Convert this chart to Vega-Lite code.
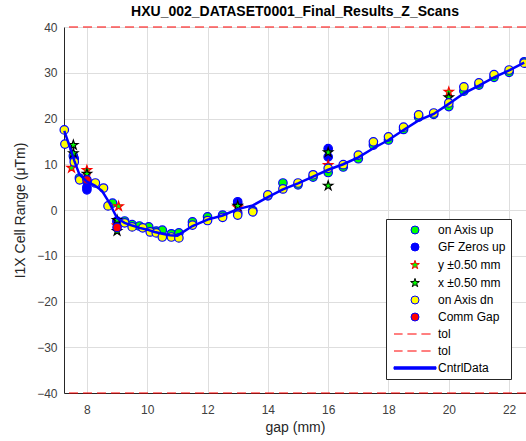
{
  "$schema": "https://vega.github.io/schema/vega-lite/v6.json",
  "autosize": "none",
  "width": 462,
  "height": 366,
  "padding": {"left": 64, "top": 27, "right": 0, "bottom": 48},
  "background": "white",
  "title": {"text": "HXU_002_DATASET0001_Final_Results_Z_Scans", "font": "Liberation Sans", "fontSize": 14, "fontWeight": "bold", "color": "#000000", "offset": 2, "anchor": "middle"},
  "datasets": {
    "pts": [
      {"series": "on Axis up", "gap": 7.55, "val": 11.8},
      {"series": "on Axis up", "gap": 7.75, "val": 7.0},
      {"series": "on Axis up", "gap": 8.0, "val": 6.2},
      {"series": "on Axis up", "gap": 8.85, "val": 1.5},
      {"series": "on Axis up", "gap": 9.0, "val": -2.6},
      {"series": "on Axis up", "gap": 9.25, "val": -2.4},
      {"series": "on Axis up", "gap": 9.5, "val": -3.2},
      {"series": "on Axis up", "gap": 9.74, "val": -3.5},
      {"series": "on Axis up", "gap": 10.05, "val": -3.7},
      {"series": "on Axis up", "gap": 10.3, "val": -4.6},
      {"series": "on Axis up", "gap": 10.5, "val": -4.4},
      {"series": "on Axis up", "gap": 10.8, "val": -5.2},
      {"series": "on Axis up", "gap": 11.05, "val": -5.0},
      {"series": "on Axis up", "gap": 11.5, "val": -2.6},
      {"series": "on Axis up", "gap": 12.0, "val": -1.5},
      {"series": "on Axis up", "gap": 12.5, "val": -1.1},
      {"series": "on Axis up", "gap": 13.0, "val": -0.6},
      {"series": "on Axis up", "gap": 13.5, "val": -0.1},
      {"series": "on Axis up", "gap": 14.0, "val": 3.1},
      {"series": "on Axis up", "gap": 14.5, "val": 5.9},
      {"series": "on Axis up", "gap": 15.0, "val": 5.5},
      {"series": "on Axis up", "gap": 15.5, "val": 7.2},
      {"series": "on Axis up", "gap": 16.0, "val": 8.2},
      {"series": "on Axis up", "gap": 16.5, "val": 9.4},
      {"series": "on Axis up", "gap": 17.0, "val": 11.2},
      {"series": "on Axis up", "gap": 17.5, "val": 14.2},
      {"series": "on Axis up", "gap": 18.0, "val": 15.3},
      {"series": "on Axis up", "gap": 18.5, "val": 17.6},
      {"series": "on Axis up", "gap": 19.0, "val": 20.3},
      {"series": "on Axis up", "gap": 19.5, "val": 20.9},
      {"series": "on Axis up", "gap": 20.0, "val": 22.6},
      {"series": "on Axis up", "gap": 20.5, "val": 26.0},
      {"series": "on Axis up", "gap": 21.0, "val": 27.3},
      {"series": "on Axis up", "gap": 21.5, "val": 29.0},
      {"series": "on Axis up", "gap": 22.0, "val": 30.1},
      {"series": "on Axis up", "gap": 22.5, "val": 32.4},
      {"series": "GF Zeros up", "gap": 7.58, "val": 11.2},
      {"series": "GF Zeros up", "gap": 8.0, "val": 5.0},
      {"series": "GF Zeros up", "gap": 8.0, "val": 4.4},
      {"series": "GF Zeros up", "gap": 9.0, "val": -2.4},
      {"series": "GF Zeros up", "gap": 13.0, "val": 1.8},
      {"series": "GF Zeros up", "gap": 13.0, "val": 1.3},
      {"series": "GF Zeros up", "gap": 16.0, "val": 13.4},
      {"series": "GF Zeros up", "gap": 16.0, "val": 11.6},
      {"series": "y ±0.50 mm", "gap": 7.49, "val": 9.2},
      {"series": "y ±0.50 mm", "gap": 8.0, "val": 8.7},
      {"series": "y ±0.50 mm", "gap": 9.05, "val": 0.8},
      {"series": "y ±0.50 mm", "gap": 9.0, "val": -3.4},
      {"series": "y ±0.50 mm", "gap": 13.0, "val": 0.6},
      {"series": "y ±0.50 mm", "gap": 16.0, "val": 9.8},
      {"series": "y ±0.50 mm", "gap": 20.0, "val": 25.8},
      {"series": "x ±0.50 mm", "gap": 7.55, "val": 14.2},
      {"series": "x ±0.50 mm", "gap": 7.55, "val": 12.4},
      {"series": "x ±0.50 mm", "gap": 8.0, "val": 7.9},
      {"series": "x ±0.50 mm", "gap": 9.0, "val": -2.2},
      {"series": "x ±0.50 mm", "gap": 9.0, "val": -4.6},
      {"series": "x ±0.50 mm", "gap": 13.0, "val": 0.9},
      {"series": "x ±0.50 mm", "gap": 16.0, "val": 12.6},
      {"series": "x ±0.50 mm", "gap": 16.0, "val": 5.3},
      {"series": "x ±0.50 mm", "gap": 20.0, "val": 24.6},
      {"series": "on Axis dn", "gap": 7.25, "val": 17.5},
      {"series": "on Axis dn", "gap": 7.27, "val": 14.4},
      {"series": "on Axis dn", "gap": 7.58, "val": 10.5},
      {"series": "on Axis dn", "gap": 7.76, "val": 6.6},
      {"series": "on Axis dn", "gap": 8.28, "val": 5.9},
      {"series": "on Axis dn", "gap": 8.55, "val": 4.8},
      {"series": "on Axis dn", "gap": 8.7, "val": 0.9},
      {"series": "on Axis dn", "gap": 9.25, "val": -2.8},
      {"series": "on Axis dn", "gap": 9.5, "val": -3.7},
      {"series": "on Axis dn", "gap": 9.85, "val": -3.9},
      {"series": "on Axis dn", "gap": 10.1, "val": -4.8},
      {"series": "on Axis dn", "gap": 10.3, "val": -5.0},
      {"series": "on Axis dn", "gap": 10.5, "val": -5.9},
      {"series": "on Axis dn", "gap": 10.8, "val": -5.9},
      {"series": "on Axis dn", "gap": 11.05, "val": -6.1},
      {"series": "on Axis dn", "gap": 11.5, "val": -3.3},
      {"series": "on Axis dn", "gap": 12.0, "val": -2.3},
      {"series": "on Axis dn", "gap": 12.5, "val": -1.6},
      {"series": "on Axis dn", "gap": 13.0, "val": -1.1},
      {"series": "on Axis dn", "gap": 13.5, "val": -0.4},
      {"series": "on Axis dn", "gap": 14.0, "val": 3.3},
      {"series": "on Axis dn", "gap": 14.5, "val": 4.6},
      {"series": "on Axis dn", "gap": 15.0, "val": 5.9},
      {"series": "on Axis dn", "gap": 15.5, "val": 7.7},
      {"series": "on Axis dn", "gap": 16.0, "val": 9.1},
      {"series": "on Axis dn", "gap": 16.5, "val": 9.9},
      {"series": "on Axis dn", "gap": 17.0, "val": 12.0},
      {"series": "on Axis dn", "gap": 17.5, "val": 14.9},
      {"series": "on Axis dn", "gap": 18.0, "val": 16.0},
      {"series": "on Axis dn", "gap": 18.5, "val": 18.1},
      {"series": "on Axis dn", "gap": 19.0, "val": 20.8},
      {"series": "on Axis dn", "gap": 19.5, "val": 21.2},
      {"series": "on Axis dn", "gap": 20.0, "val": 23.4},
      {"series": "on Axis dn", "gap": 20.5, "val": 26.9},
      {"series": "on Axis dn", "gap": 21.0, "val": 27.8},
      {"series": "on Axis dn", "gap": 21.5, "val": 29.6},
      {"series": "on Axis dn", "gap": 22.0, "val": 30.6},
      {"series": "on Axis dn", "gap": 22.5, "val": 32.1},
      {"series": "Comm Gap", "gap": 8.0, "val": 6.6},
      {"series": "Comm Gap", "gap": 9.0, "val": -3.8}
    ],
    "ctrl": [
      {"gap": 7.25, "val": 17.3}, {"gap": 7.5, "val": 12.5}, {"gap": 7.58, "val": 10.8},
      {"gap": 7.75, "val": 7.8}, {"gap": 8.0, "val": 6.2}, {"gap": 8.25, "val": 5.4},
      {"gap": 8.5, "val": 4.2}, {"gap": 8.75, "val": 1.5}, {"gap": 9.0, "val": -1.8},
      {"gap": 9.25, "val": -2.8}, {"gap": 9.5, "val": -3.4}, {"gap": 9.75, "val": -3.9},
      {"gap": 10.0, "val": -4.3}, {"gap": 10.25, "val": -4.8}, {"gap": 10.5, "val": -5.2},
      {"gap": 10.75, "val": -5.5}, {"gap": 11.0, "val": -5.6}, {"gap": 11.5, "val": -3.5},
      {"gap": 12.0, "val": -2.1}, {"gap": 12.5, "val": -1.2}, {"gap": 13.0, "val": 0.2},
      {"gap": 13.5, "val": 1.0}, {"gap": 14.0, "val": 2.8}, {"gap": 14.5, "val": 4.5},
      {"gap": 15.0, "val": 5.8}, {"gap": 15.5, "val": 7.3}, {"gap": 16.0, "val": 8.8},
      {"gap": 16.5, "val": 10.0}, {"gap": 17.0, "val": 11.5}, {"gap": 17.5, "val": 13.5},
      {"gap": 18.0, "val": 15.3}, {"gap": 18.5, "val": 17.5}, {"gap": 19.0, "val": 19.6},
      {"gap": 19.5, "val": 21.0}, {"gap": 20.0, "val": 23.2}, {"gap": 20.5, "val": 25.5},
      {"gap": 21.0, "val": 27.2}, {"gap": 21.5, "val": 29.0}, {"gap": 22.0, "val": 30.5},
      {"gap": 22.5, "val": 32.2}
    ],
    "tol": [
      {"series": "tol", "val": 40},
      {"series": "tol ", "val": -40}
    ]
  },
  "layer": [
    {
      "data": {"name": "tol"},
      "mark": {"type": "rule", "color": "#ff0000", "strokeDash": [9, 5], "strokeWidth": 1},
      "encoding": {
        "y": {"field": "val", "type": "quantitative", "scale": {"domain": [-40, 40], "nice": false}}
      }
    },
    {
      "data": {"name": "pts"},
      "mark": {"type": "point", "filled": true, "size": 72, "opacity": 1, "strokeWidth": 1.2},
      "encoding": {
        "x": {"field": "gap", "type": "quantitative", "scale": {"domain": [7.24, 22.56], "nice": false, "zero": false},
              "axis": {"title": "gap (mm)", "values": [8, 10, 12, 14, 16, 18, 20, 22]}},
        "y": {"field": "val", "type": "quantitative", "scale": {"domain": [-40, 40], "nice": false},
              "axis": {"title": "I1X Cell Range (μTm)", "values": [-40, -30, -20, -10, 0, 10, 20, 30, 40]}},
        "shape": {"field": "series", "type": "nominal",
          "scale": {"domain": ["on Axis up", "GF Zeros up", "y ±0.50 mm", "x ±0.50 mm", "on Axis dn", "Comm Gap", "tol", "tol ", "CntrlData"],
                    "range": ["circle", "circle",
                              "M0,-1.15L0.26,-0.36L1.09,-0.36L0.42,0.14L0.68,0.93L0,0.44L-0.68,0.93L-0.42,0.14L-1.09,-0.36L-0.26,-0.36Z",
                              "M0,-1.15L0.26,-0.36L1.09,-0.36L0.42,0.14L0.68,0.93L0,0.44L-0.68,0.93L-0.42,0.14L-1.09,-0.36L-0.26,-0.36Z",
                              "circle", "circle",
                              "M-5.25,0H-3.1M-1.9,0H0.4M1.6,0H3.9",
                              "M-5.25,0H-3.1M-1.9,0H0.4M1.6,0H3.9",
                              "M-5.25,-0.3H5.25V0.3H-5.25Z"]},
          "legend": {"title": null}},
        "fill": {"field": "series", "type": "nominal",
          "scale": {"domain": ["on Axis up", "GF Zeros up", "y ±0.50 mm", "x ±0.50 mm", "on Axis dn", "Comm Gap", "tol", "tol ", "CntrlData"],
                    "range": ["#00ff00", "#0000ff", "#00ff00", "#00ff00", "#ffff00", "#ff0000", "transparent", "transparent", "#0000ff"]},
          "legend": {"title": null}},
        "stroke": {"field": "series", "type": "nominal",
          "scale": {"domain": ["on Axis up", "GF Zeros up", "y ±0.50 mm", "x ±0.50 mm", "on Axis dn", "Comm Gap", "tol", "tol ", "CntrlData"],
                    "range": ["#0000ff", "#0000ff", "#ff0000", "#000000", "#0000ff", "#0000ff", "#ff0000", "#ff0000", "#0000ff"]},
          "legend": {"title": null}}
      }
    },
    {
      "data": {"name": "ctrl"},
      "mark": {"type": "line", "color": "#0000ff", "strokeWidth": 2.5},
      "encoding": {
        "x": {"field": "gap", "type": "quantitative"},
        "y": {"field": "val", "type": "quantitative"}
      }
    }
  ],
  "config": {
    "view": {"stroke": null},
    "axis": {
      "labelFont": "Liberation Sans", "labelFontSize": 12, "labelColor": "#404040",
      "titleFont": "Liberation Sans", "titleFontSize": 14, "titleColor": "#262626", "titleFontWeight": "normal",
      "gridColor": "#dedede", "gridWidth": 1,
      "domainColor": "#262626", "ticks": false
    },
    "axisX": {"labelPadding": 11, "titlePadding": 5},
    "axisY": {"labelPadding": 7, "titlePadding": 9},
    "legend": {
      "orient": "none", "legendX": 322, "legendY": 192,
      "strokeColor": "#262626", "fillColor": "#ffffff", "cornerRadius": 0, "padding": 5,
      "labelFont": "Liberation Sans", "labelFontSize": 12, "labelColor": "#000000", "labelLimit": 200,
      "symbolSize": 64, "symbolStrokeWidth": 1, "symbolOffset": 18, "labelOffset": 17, "rowPadding": 5
    }
  }
}
